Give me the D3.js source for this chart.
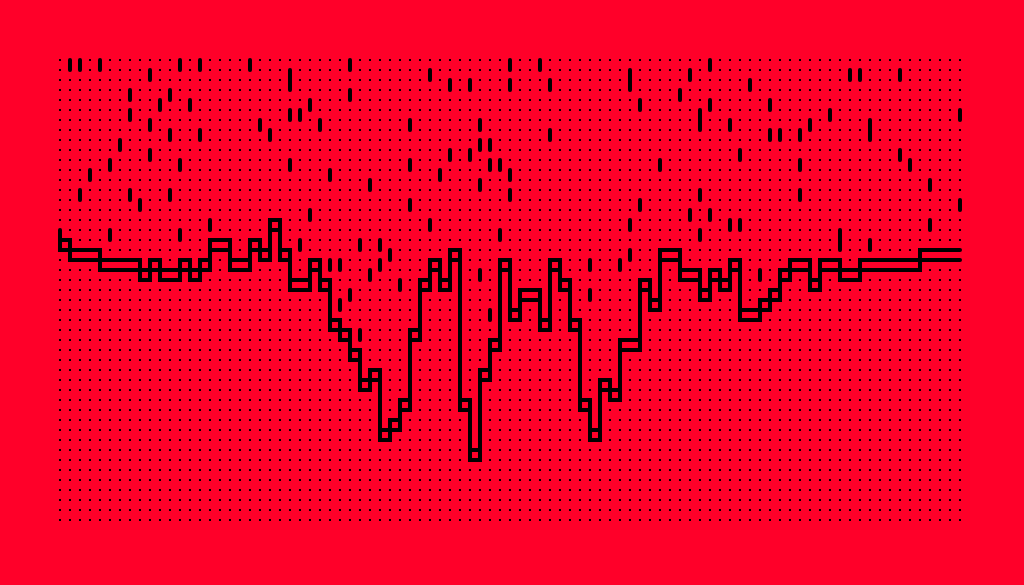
<!DOCTYPE html>
<html><head><meta charset="utf-8">
<script src="https://cdn.jsdelivr.net/npm/d3@7"></script>
<style>html,body{margin:0;padding:0;background:#ff0029;} svg{display:block}</style>
</head><body>
<svg id="chart" width="1024" height="585"></svg>
<script>
// step series (value per step, curveStepBefore), 91 steps
const upper = [29,28,27,27,27,26,26,26,26,25,
  26,25,25,26,25,26,28,28,26,26,
  28,27,30,27,24,24,26,24,20,19,
  17,14,15,9,10,12,19,24,26,24,
  27,12,7,15,18,26,21,23,23,20,
  26,24,20,12,9,14,13,18,18,24,
  22,27,27,25,25,23,25,24,26,21,
  21,22,23,25,26,26,24,26,26,25,
  25,26,26,26,26,26,26,27,27,27,
  27];
const lower = [28,27,26,26,26,25,25,25,25,24,
  25,24,24,25,24,25,27,27,25,25,
  27,26,29,26,23,23,25,23,19,18,
  16,13,14,8,9,11,18,23,25,23,
  26,11,6,14,17,25,20,22,22,19,
  25,23,19,11,8,13,12,17,17,23,
  21,26,26,24,24,22,24,23,25,20,
  20,21,22,24,25,25,23,25,25,24,
  24,25,25,25,25,25,25,26,26,26,
  26];
// tick marks: column index and top value (each spans one unit downward)
const markCol = [1,2,4,12,14,19,9,23,23,7,11,10,13,7,23,24,9,20,11,14,21,6,9,5,12,23,3,2,7,11,8,5,12,15,
  29,29,25,26,27,31,35,35,37,38,39,39,41,41,42,42,42,43,43,44,45,45,45,45,48,49,49,
  57,57,58,60,62,63,64,64,64,65,65,67,68,69,71,71,72,74,74,75,77,79,80,81,81,84,84,85,87,90,74,58,35,90,
  25,37,44,24,30,32,33,27,28,32,31,34,29,28,42,43,30,63,65,57,67,68,64,57,53,56,53,70,78,78,81,87];
const markVal = [46,46,46,46,46,46,45,45,44,43,43,42,42,41,41,41,40,40,39,39,39,38,37,36,36,36,35,33,33,33,32,29,29,30,
  46,43,42,40,35,34,40,36,45,35,44,37,44,37,40,38,34,38,36,36,46,44,35,33,46,44,39,
  45,44,42,36,43,45,41,40,33,46,42,40,37,44,42,39,39,39,36,40,41,45,45,40,39,45,37,36,34,41,33,32,32,32,
  31,30,29,28,28,28,27,26,26,26,25,24,23,22,25,21,19,31,31,30,30,30,29,27,26,26,23,25,29,28,28,30];
const xDomain = [0, 90];
const yDomain = [0, 46];

const svg = d3.select('#chart');
const x = d3.scaleLinear().domain(xDomain).range([60, 960]);
const y = d3.scaleLinear().domain(yDomain).range([520, 60]);

// dot grid
const cols = d3.range(xDomain[0], xDomain[1] + 1);
const rows = d3.range(yDomain[0], yDomain[1] + 1);
const grid = [];
cols.forEach(c => rows.forEach(r => grid.push([c, r])));
svg.append('g').selectAll('rect').data(grid).join('rect')
  .attr('x', d => x(d[0]) - 1).attr('y', d => y(d[1]) - 1)
  .attr('width', 2).attr('height', 2).attr('fill', '#000');

// tick marks
const marks = markCol.map((c, i) => [c, markVal[i]]);
svg.append('g').selectAll('line').data(marks).join('line')
  .attr('x1', d => x(d[0])).attr('x2', d => x(d[0]))
  .attr('y1', d => y(d[1])).attr('y2', d => y(d[1] - 1))
  .attr('stroke', '#000').attr('stroke-width', 4).attr('stroke-linecap', 'round');

// step lines
const line = d3.line().x((d, i) => x(i)).y(d => y(d)).curve(d3.curveStepBefore);
[upper, lower].forEach(s => {
  svg.append('path').datum(s).attr('d', line)
    .attr('fill', 'none').attr('stroke', '#000').attr('stroke-width', 4)
    .attr('stroke-linecap', 'round').attr('stroke-linejoin', 'miter');
});
</script>
</body></html>
